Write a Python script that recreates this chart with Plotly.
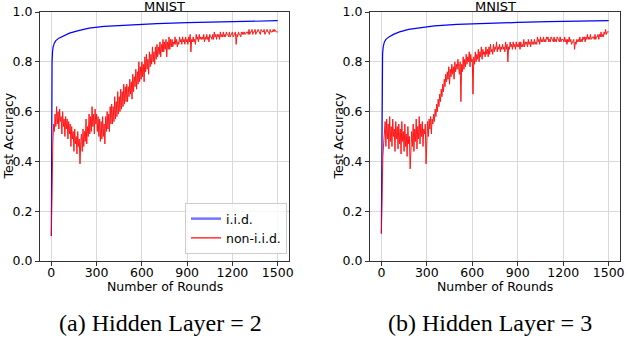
import plotly.graph_objects as go

# rounds for the iid curves (sampled where the curve bends)
IID_ROUNDS = [0, 1, 2, 3, 5, 8, 12, 20, 30, 50, 80, 120, 180, 250, 350, 500, 700, 900, 1100, 1300, 1500]
IID_L2 = [0.10, 0.40, 0.62, 0.72, 0.80, 0.84, 0.86, 0.875, 0.885, 0.895, 0.905, 0.915, 0.925, 0.935,
          0.942, 0.948, 0.953, 0.957, 0.960, 0.963, 0.965]
IID_L3 = [0.11, 0.30, 0.50, 0.65, 0.78, 0.83, 0.86, 0.88, 0.89, 0.90, 0.91, 0.92, 0.93, 0.937,
          0.944, 0.95, 0.955, 0.958, 0.961, 0.963, 0.965]

# non-iid accuracy (%) every 5 rounds, 0..1500
NONIID_ROUNDS = list(range(0, 1501, 5))
NONIID_L2 = [
    10, 38, 47, 55, 52, 59, 54, 62, 55, 60, 53, 61, 56, 58, 51, 60, 54, 57, 50, 58,
    53, 57, 49, 56, 51, 55, 46, 54, 49, 52, 44, 53, 47, 50, 43, 52, 46, 49, 39, 48,
    51, 44, 53, 46, 52, 48, 57, 47, 54, 50, 59, 51, 58, 52, 62, 54, 59, 51, 61, 55,
    59, 52, 58, 50, 57, 48, 56, 49, 58, 50, 55, 47, 58, 52, 60, 53, 59, 52, 62, 55,
    63, 55, 62, 56, 66, 57, 64, 58, 68, 59, 66, 60, 69, 61, 68, 62, 71, 63, 70, 64,
    71, 64, 70, 66, 73, 67, 72, 65, 75, 68, 74, 70, 77, 69, 76, 71, 80, 72, 78, 73,
    80, 74, 79, 72, 82, 76, 83, 77, 81, 75, 84, 78, 83, 79, 86, 80, 84, 79, 86, 81,
    87, 82, 86, 83, 88, 82, 87, 84, 89, 84, 88, 85, 89, 82, 88, 85, 90, 85, 89, 86,
    89, 86, 88, 87, 90, 87, 89, 86, 88, 87, 90, 88, 89, 87, 90, 88, 89, 87, 90, 88,
    89, 87, 90, 88, 91, 84, 89, 88, 90, 88, 89, 87, 91, 89, 90, 88, 91, 89, 90, 89,
    90, 89, 91, 88, 90, 89, 91, 89, 90, 88, 91, 90, 90, 89, 91, 89, 92, 90, 91, 89,
    91, 90, 91, 89, 92, 90, 91, 90, 92, 90, 91, 90, 92, 91, 91, 90, 92, 90, 91, 91,
    92, 90, 91, 91, 92, 87, 91, 90, 92, 91, 91, 90, 92, 91, 92, 91, 92, 91, 92, 92,
    92, 91, 93, 91, 92, 92, 93, 91, 92, 92, 93, 91, 92, 92, 93, 92, 92, 91, 93, 92,
    92, 92, 93, 91, 92, 92, 93, 92, 92, 91, 93, 92, 92, 92, 93, 92, 93, 92, 92, 92,
    92,
]
NONIID_L3 = [
    11, 33, 42, 47, 50, 56, 46, 57, 49, 55, 45, 58, 48, 54, 46, 57, 50, 53, 44, 56,
    49, 54, 45, 55, 47, 53, 43, 56, 48, 52, 44, 55, 46, 51, 42, 54, 47, 50, 37, 49,
    52, 46, 55, 44, 53, 48, 57, 45, 54, 49, 58, 47, 55, 50, 56, 46, 53, 51, 55, 39,
    52, 56, 50, 57, 53, 58, 51, 57, 55, 59, 56, 61, 58, 63, 60, 65, 62, 67, 64, 69,
    66, 71, 68, 73, 70, 75, 72, 76, 73, 78, 71, 77, 74, 79, 75, 78, 73, 80, 76, 79,
    77, 81, 78, 75, 80, 64, 79, 76, 82, 77, 81, 78, 83, 79, 82, 80, 84, 78, 83, 80,
    81, 67, 82, 79, 84, 80, 83, 81, 85, 80, 84, 82, 86, 81, 85, 83, 84, 82, 86, 83,
    85, 82, 86, 83, 87, 84, 85, 83, 87, 84, 86, 85, 88, 84, 86, 85, 87, 84, 86, 85,
    87, 85, 86, 84, 88, 85, 87, 80, 86, 85, 88, 86, 87, 85, 88, 86, 87, 85, 88, 86,
    87, 86, 88, 85, 88, 86, 87, 86, 89, 86, 88, 87, 88, 86, 89, 87, 88, 86, 89, 87,
    88, 87, 89, 87, 88, 87, 90, 88, 89, 87, 90, 88, 89, 88, 90, 88, 89, 88, 90, 89,
    90, 88, 89, 88, 90, 89, 89, 88, 90, 88, 89, 88, 90, 89, 89, 88, 90, 88, 89, 89,
    89, 88, 90, 88, 89, 87, 89, 88, 90, 88, 89, 87, 88, 88, 89, 85, 88, 87, 89, 88,
    89, 88, 90, 88, 89, 88, 90, 89, 90, 88, 90, 89, 91, 89, 90, 89, 91, 89, 90, 90,
    90, 89, 91, 89, 90, 90, 91, 89, 91, 90, 92, 90, 91, 90, 92, 91, 93, 91, 92, 92,
    92,
]

X_TICKS = [0, 300, 600, 900, 1200, 1500]
CAPTIONS = ["(a) Hidden Layer = 2", "(b) Hidden Layer = 3"]

W, H = 628, 340
FONT = "DejaVu Sans"
# plot boxes in pixels: (left, right)
boxes = [(40, 289), (370, 620)]
top, bottom = 12, 261

fig = go.Figure()

for i, (iid, noniid) in enumerate([(IID_L2, NONIID_L2), (IID_L3, NONIID_L3)]):
    xa = "x" if i == 0 else "x2"
    ya = "y" if i == 0 else "y2"
    fig.add_trace(go.Scatter(x=IID_ROUNDS, y=iid, mode="lines", xaxis=xa, yaxis=ya,
                             line=dict(color="#0000ff", width=1.2), showlegend=False))
    fig.add_trace(go.Scatter(x=NONIID_ROUNDS, y=[v / 100 for v in noniid], mode="lines",
                             xaxis=xa, yaxis=ya, opacity=0.9,
                             line=dict(color="#ff0000", width=1), showlegend=False))

# legend-only entries (left panel)
fig.add_trace(go.Scatter(x=[None], y=[None], mode="lines", name="i.i.d.",
                         line=dict(color="rgba(0,0,255,0.55)", width=2.5)))
fig.add_trace(go.Scatter(x=[None], y=[None], mode="lines", name="non-i.i.d.",
                         line=dict(color="#ff0000", width=1.2)))

axis_common = dict(showline=True, linecolor="#333333", linewidth=1, mirror=True,
                   showgrid=True, gridcolor="#d9d9d9", gridwidth=1, automargin=False,
                   ticks="outside", ticklen=4, tickcolor="#333333",
                   tickfont=dict(family=FONT, size=12.5, color="black"), zeroline=False)

y_dom = [(H - bottom) / H, (H - top) / H]
for i, (l, r) in enumerate(boxes):
    sfx = "" if i == 0 else "2"
    fig.layout["xaxis" + sfx] = dict(axis_common, domain=[l / W, r / W], range=[-75, 1575],
                                     tickvals=X_TICKS, anchor="y" + sfx, ticklabelstandoff=-4)
    fig.layout["yaxis" + sfx] = dict(axis_common, domain=y_dom, range=[0, 1], dtick=0.2,
                                     tickformat=".1f", anchor="x" + sfx)
    cx = (l + r) / 2 / W
    ann = dict(xref="paper", yref="paper", showarrow=False, xanchor="center", yanchor="middle")
    fig.add_annotation(ann, text="MNIST", x=cx, y=(H - 6) / H,
                       font=dict(family=FONT, size=13, color="black"))
    fig.add_annotation(ann, text="Number of Rounds", x=cx, y=(H - 286) / H,
                       font=dict(family=FONT, size=12.5, color="black"))
    fig.add_annotation(ann, text="Test Accuracy", x=(l - 32) / W, y=(H - (top + bottom) / 2) / H,
                       textangle=-90, font=dict(family=FONT, size=12.5, color="black"))
    fig.add_annotation(ann, text=CAPTIONS[i], x=(160 if i == 0 else 490) / W, y=(H - 323) / H,
                       font=dict(family="Liberation Serif", size=24, color="black"))

fig.update_layout(
    width=W, height=H, margin=dict(l=0, r=0, t=0, b=0, autoexpand=False),
    plot_bgcolor="white", paper_bgcolor="white",
    legend=dict(x=287 / W, y=(H - 254) / H, xanchor="right", yanchor="bottom",
                bordercolor="#cccccc", borderwidth=1, bgcolor="rgba(255,255,255,0.8)",
                font=dict(family=FONT, size=12.5, color="black"), tracegroupgap=0),
)

# drop the default page margin so the figure sits at the window's top-left corner
fig.write_html("out.html", config={"displayModeBar": False},
               post_script="document.body.style.margin='0';")
